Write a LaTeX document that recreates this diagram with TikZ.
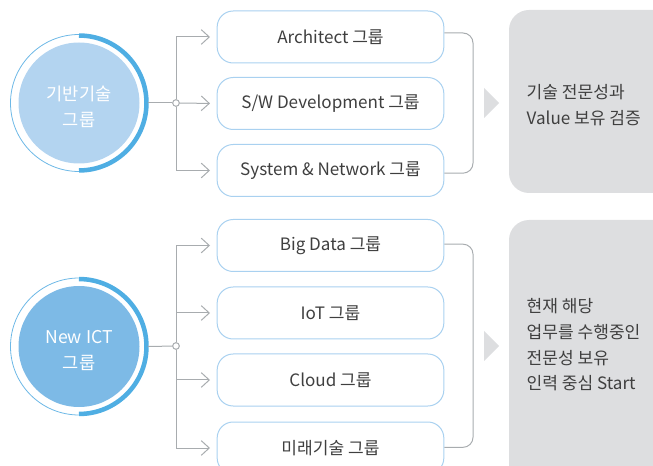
\documentclass[tikz,border=0pt]{standalone}
\usepackage{fontspec}
\setmainfont{Noto Sans CJK KR}
\usetikzlibrary{arrows.meta}
\definecolor{fillA}{HTML}{B3D4F0}
\definecolor{fillB}{HTML}{7DBAE6}
\definecolor{arcblue}{HTML}{4FAEE3}
\definecolor{ringblue}{HTML}{6DB8E6}
\definecolor{boxblue}{HTML}{A9D1F0}
\definecolor{lgray}{HTML}{A8ACAF}
\definecolor{panel}{HTML}{DDDEE0}
\definecolor{txt}{HTML}{3F3F3F}
\begin{document}
\begin{tikzpicture}[x=0.75pt,y=-0.75pt,
  grp/.style={draw=boxblue, line width=0.75pt, rounded corners=12pt, fill=white,
    minimum width=170pt, minimum height=39pt, inner sep=0pt, text=txt,
    font=\fontsize{12.8}{14}\selectfont},
  innerc/.style={circle, inner sep=0pt, minimum size=90.75pt},
  ctext/.style={text=white, align=center, font=\fontsize{13.2}{19.5}\selectfont},
  outerc/.style={circle, draw=ringblue, line width=0.6pt, inner sep=0pt, minimum size=102.75pt},
  thickarc/.style={draw=arcblue, line width=3.4pt},
  conn/.style={draw=lgray, line width=0.75pt},
  arr/.style={conn, -{Straight Barb[length=6pt,width=11pt,line width=0.75pt]}, shorten >=5pt},
  junc/.style={circle, draw=lgray, fill=white, line width=0.75pt, inner sep=0pt, minimum size=5pt},
  paneltxt/.style={anchor=west, align=left, text=txt, font=\fontsize{12.8}{19.3}\selectfont}
]
\useasboundingbox (0,0) rectangle (653,466);
\clip (0,0) rectangle (653,466);

% ---------- top group ----------
\node[outerc] (c1o) at (79,103) {};
\node[innerc, fill=fillA] (c1) at (79,103) {};
\node[ctext] (c1t) at (79,107) {기반기술\\그룹};
\draw[thickarc] ([yshift=50.6pt]c1.center) arc[start angle=90, end angle=-90, radius=50.6pt];

\node[grp] (a1) at (330.5,37) {Architect 그룹};
\node[grp] (a2) at (330.5,103.5) {S/W Development 그룹};
\node[grp] (a3) at (330.5,170.5) {System \& Network 그룹};

\node[junc] (j1) at (176,103) {};
\draw[conn] (c1o.east) -- (j1);
\draw[arr] (j1) |- (a1.west);
\draw[arr] (j1) -- (a2.west);
\draw[arr] (j1) |- (a3.west);

\coordinate (k1) at (473,103);
\draw[conn, rounded corners=7.5pt] ([yshift=3pt]a1.east) -| (k1) |- ([yshift=-2pt]a3.east);

\fill[panel] (484,88) -- (499,103) -- (484,118) -- cycle;
\fill[panel, rounded corners=15pt] (509,10) rectangle (690,193);
\node[paneltxt] (p1) at (522,105) {기술 전문성과\\Value 보유 검증};

% ---------- bottom group ----------
\node[outerc] (c2o) at (79,346.5) {};
\node[innerc, fill=fillB] (c2) at (79,346.5) {};
\node[ctext] (c2t) at (79,350.5) {New ICT\\그룹};
\draw[thickarc] ([yshift=50.6pt]c2.center) arc[start angle=90, end angle=-90, radius=50.6pt];

\node[grp] (b1) at (330.5,245.5) {Big Data 그룹};
\node[grp] (b2) at (330.5,313) {IoT 그룹};
\node[grp] (b3) at (330.5,380) {Cloud 그룹};
\node[grp] (b4) at (330.5,448) {미래기술 그룹};

\node[junc] (j2) at (176,346) {};
\draw[conn] (c2o.east) -- (j2);
\draw[arr] (j2) |- (b1.west);
\draw[arr] (j2) |- (b2.west);
\draw[arr] (j2) |- (b3.west);
\draw[arr] (j2) |- (b4.west);

\coordinate (k2) at (473,346);
\draw[conn, rounded corners=7.5pt] ([yshift=1pt]b1.east) -| (k2) |- ([yshift=0.5pt]b4.east);

\fill[panel] (484,331) -- (499,346) -- (484,361) -- cycle;
\fill[panel, rounded corners=15pt] (509,220) rectangle (690,500);
\node[paneltxt] (p2) at (522,345) {현재 해당\\업무를 수행중인\\전문성 보유\\인력 중심 Start};
\end{tikzpicture}
\end{document}
